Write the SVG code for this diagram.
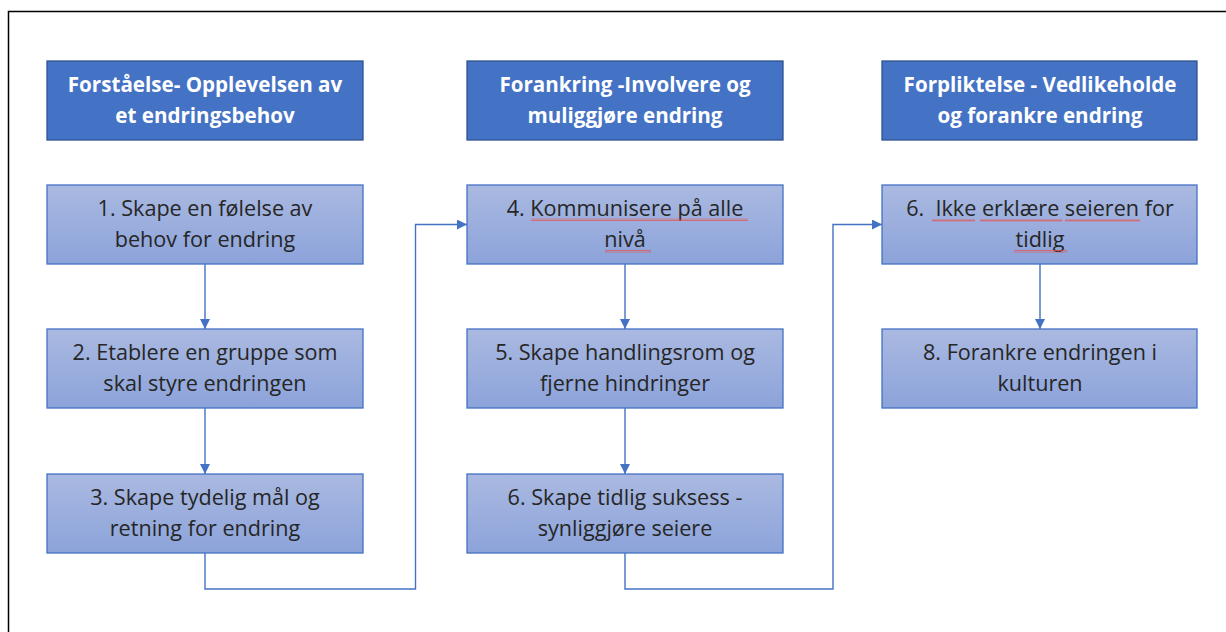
<svg xmlns="http://www.w3.org/2000/svg" width="1226" height="632" viewBox="0 0 1226 632">
<defs>
<style>
.hdr rect{fill:#4472C4;stroke:#2F528F;stroke-width:1.3}
.hdr text{font-family:"Open Sans",Lato,sans-serif;font-weight:bold;font-size:20.6px;fill:#FFFFFF;text-anchor:middle}
.stp rect.b{fill:url(#g);stroke:#4472C4;stroke-width:1.3}
.stp text{font-family:"Open Sans",Lato,sans-serif;font-size:21.6px;fill:#262626;text-anchor:middle;white-space:pre}
.sq{fill:url(#sq)}
#connectors path{fill:none;stroke:#4472C4;stroke-width:1.4}
</style>
<linearGradient id="g" x1="0" y1="0" x2="0" y2="1">
<stop offset="0" stop-color="#AAB9E1"/>
<stop offset="1" stop-color="#8CA3DA"/>
</linearGradient>
<pattern id="sq" patternUnits="userSpaceOnUse" width="4" height="3">
<polyline points="0,2.5 1,0.5 2,2.5 3,0.5 4,2.5" fill="none" stroke="#E8504A" stroke-width="0.7"/>
</pattern>
<marker id="arr" viewBox="0 0 10 10" refX="10" refY="5" markerWidth="10" markerHeight="10" markerUnits="userSpaceOnUse" orient="auto">
<path d="M0,0 L10,5 L0,10 Z" fill="#4472C4"/>
</marker>
</defs>
<rect x="0" y="0" width="1226" height="632" fill="#FFFFFF"/>
<path d="M8.5,632 V11.5 H1226" fill="none" stroke="#000000" stroke-width="1.5"/>

<g id="h1" class="hdr"><rect x="47" y="61" width="316" height="79"/><text x="205" y="92">Forståelse- Opplevelsen av</text><text x="205" y="123">et endringsbehov</text></g>
<g id="h2" class="hdr"><rect x="467" y="61" width="316" height="79"/><text x="625" y="92">Forankring -Involvere og</text><text x="625" y="123">muliggjøre endring</text></g>
<g id="h3" class="hdr"><rect x="882" y="61" width="315" height="79"/><text x="1040" y="92">Forpliktelse - Vedlikeholde</text><text x="1040" y="123">og forankre endring</text></g>

<g id="s1" class="stp"><rect class="b" x="47" y="185" width="316" height="79"/><text x="205" y="216">1. Skape en følelse av</text><text x="205" y="247">behov for endring</text></g>
<g id="s2" class="stp"><rect class="b" x="47" y="329" width="316" height="79"/><text x="205" y="360">2. Etablere en gruppe som</text><text x="205" y="391">skal styre endringen</text></g>
<g id="s3" class="stp"><rect class="b" x="47" y="474" width="316" height="79"/><text x="205" y="505">3. Skape tydelig mål og</text><text x="205" y="536">retning for endring</text></g>

<g id="s4" class="stp"><rect class="b" x="467" y="185" width="316" height="79"/><text x="625" y="216">4. Kommunisere på alle</text><text x="625" y="247">nivå</text>
<rect class="sq" x="531" y="218" width="217" height="3"/><rect class="sq" x="605" y="250" width="46" height="3"/></g>
<g id="s5" class="stp"><rect class="b" x="467" y="329" width="316" height="79"/><text x="625" y="360">5. Skape handlingsrom og</text><text x="625" y="391">fjerne hindringer</text></g>
<g id="s6" class="stp"><rect class="b" x="467" y="474" width="316" height="79"/><text x="625" y="505">6. Skape tidlig suksess -</text><text x="625" y="536">synliggjøre seiere</text></g>

<g id="s7" class="stp"><rect class="b" x="882" y="185" width="315" height="79"/><text x="1040" y="216">6.  Ikke erklære seieren for</text><text x="1040" y="247">tidlig</text>
<rect class="sq" x="932" y="219" width="43" height="3"/><rect class="sq" x="980" y="219" width="82" height="3"/><rect class="sq" x="1065" y="219" width="75" height="3"/><rect class="sq" x="1014" y="250" width="53" height="3"/></g>
<g id="s8" class="stp"><rect class="b" x="882" y="329" width="315" height="79"/><text x="1040" y="360">8. Forankre endringen i</text><text x="1040" y="391">kulturen</text></g>

<g id="connectors">
<path d="M205,264 V329" marker-end="url(#arr)"/>
<path d="M205,408 V474" marker-end="url(#arr)"/>
<path d="M205,553 V589 H415.5 V224.5 H467" marker-end="url(#arr)"/>
<path d="M625,264 V329" marker-end="url(#arr)"/>
<path d="M625,408 V474" marker-end="url(#arr)"/>
<path d="M625,553 V589 H833 V224.5 H882" marker-end="url(#arr)"/>
<path d="M1040,264 V329" marker-end="url(#arr)"/>
</g>
</svg>
